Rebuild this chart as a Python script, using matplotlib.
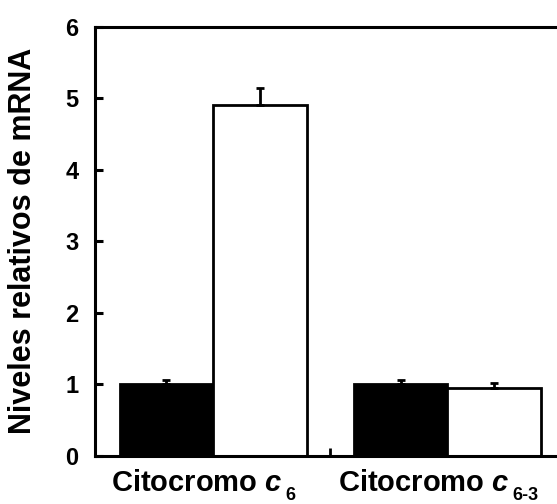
import matplotlib.pyplot as plt
import matplotlib.transforms as mtransforms
import numpy as np

plt.rcParams['font.family'] = ['Liberation Sans', 'DejaVu Sans']
plt.rcParams['font.weight'] = 'bold'
plt.rcParams['mathtext.fontset'] = 'custom'
plt.rcParams['mathtext.rm'] = 'Liberation Sans:bold'
plt.rcParams['mathtext.bf'] = 'Liberation Sans:bold'
plt.rcParams['mathtext.it'] = 'Liberation Sans:bold:italic'

genes = [r'Citocromo $\mathit{c}$', r'Citocromo $\mathit{c}$']
subscripts = ['6', '6-3']
control = [1.0, 1.0]
control_err = [0.05, 0.05]
treated = [4.9, 0.95]
treated_err = [0.24, 0.07]

x = np.arange(len(genes))
w = 0.40

fig = plt.figure(figsize=(5.57, 5.04), dpi=100)
ax = fig.add_axes([0.1706, 0.0962, 0.845, 0.8512])

ax.bar(x - w/2, control, w, color='black', edgecolor='black', linewidth=2)
ax.bar(x + w/2, treated, w, color='white', edgecolor='black', linewidth=2)
ax.errorbar(x - w/2, control, yerr=[np.zeros(2), control_err], fmt='none',
            ecolor='black', elinewidth=2, capsize=3, capthick=2)
ax.errorbar(x + w/2, treated, yerr=[np.zeros(2), treated_err], fmt='none',
            ecolor='black', elinewidth=2, capsize=3, capthick=2)

ax.set_xlim(-0.505, 1.505)
ax.set_ylim(0, 6)
ax.set_yticks(range(7))
ax.set_xticks([0.5])
ax.set_xticklabels([])
ax.tick_params(axis='x', direction='in', length=6, width=2)
ax.tick_params(axis='y', direction='in', length=6, width=2.2, pad=12, labelsize=17)
for s in ax.spines.values():
    s.set_linewidth(2.2)
ax.set_ylabel('Niveles relativos de mRNA', fontsize=22, fontweight='bold')
ax.yaxis.set_label_coords(-0.121, 0.5)

# group labels: name + italic c, then a dropped subscript
trans = mtransforms.blended_transform_factory(ax.transData, ax.transAxes)
shift = [-0.07, -0.10]
for xi, name, sub, dx in zip(x, genes, subscripts, shift):
    t = ax.text(xi + dx, -0.083, name, transform=trans, ha='center',
                va='baseline', fontsize=21, clip_on=False)
    ax.annotate(sub, xy=(1, -0.073), xycoords=(t, ax.transAxes),
                xytext=(2, 0), textcoords='offset points', ha='left',
                va='top', fontsize=13, fontweight='bold',
                annotation_clip=False)

plt.savefig('out.png', dpi=100)
